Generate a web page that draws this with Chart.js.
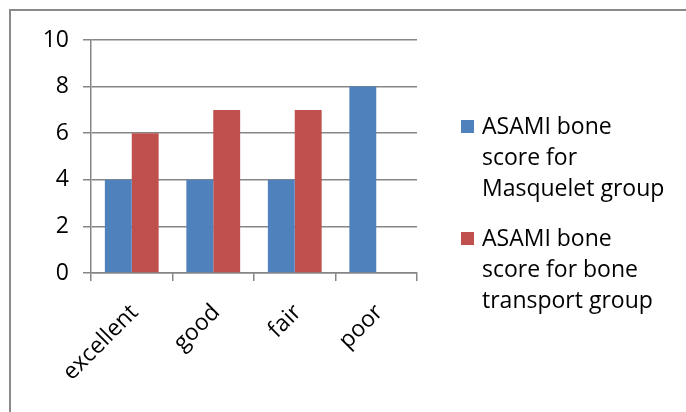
<!DOCTYPE html>
<html>
<head>
<meta charset="utf-8">
<script src="https://cdn.jsdelivr.net/npm/chart.js@4/dist/chart.umd.min.js"></script>
<style>
  html, body { margin: 0; padding: 0; background: #fff; }
  #wrap { position: relative; width: 686px; height: 412px; overflow: hidden; }
  #frame { position: absolute; left: 9px; top: 9px; width: 900px; height: 700px; border: 2px solid #8a8a8a; box-sizing: border-box; }
  #c { position: absolute; left: 0; top: 0; }
</style>
</head>
<body>
<div id="wrap">
  <div id="frame"></div>
  <canvas id="c" width="686" height="412"></canvas>
</div>
<script>
const categories = ["excellent", "good", "fair", "poor"];
const masqueletScores = [4, 4, 4, 8];
const transportScores = [6, 7, 7, 0];
const yTicks = [0, 2, 4, 6, 8, 10];
const legendLines = [
  ["ASAMI bone", "score for", "Masquelet group"],
  ["ASAMI bone", "score for bone", "transport group"]
];

const FONT = "'Open Sans', 'Liberation Sans', sans-serif";
const GRID = "#868686";
const BLUE = "#4F81BD";
const RED = "#C0504D";

const legendPlugin = {
  id: 'customLegend',
  afterDraw(chart) {
    const ctx = chart.ctx;
    ctx.save();
    ctx.font = "23px " + FONT;
    ctx.textBaseline = 'middle';
    ctx.textAlign = 'left';
    const starts = [127, 239];
    chart.data.datasets.forEach((ds, i) => {
      const y0 = starts[i];
      ctx.fillStyle = ds.backgroundColor;
      ctx.fillRect(461, y0 - 7, 13, 13);
      ctx.fillStyle = '#000';
      legendLines[i].forEach((line, j) => {
        ctx.fillText(line, 482, y0 + j * 31);
      });
    });
    ctx.restore();
  }
};

new Chart(document.getElementById('c'), {
  type: 'bar',
  data: {
    labels: categories,
    datasets: [
      { label: legendLines[0].join(' '), data: masqueletScores, backgroundColor: BLUE, categoryPercentage: 0.66, barPercentage: 1.0 },
      { label: legendLines[1].join(' '), data: transportScores, backgroundColor: RED, categoryPercentage: 0.66, barPercentage: 1.0 }
    ]
  },
  options: {
    responsive: false,
    animation: false,
    devicePixelRatio: 1,
    layout: { padding: { left: 0, top: 40, right: 269, bottom: 0 } },
    plugins: {
      legend: { display: false },
      tooltip: { enabled: false }
    },
    scales: {
      x: {
        afterFit(scale) { scale.height = 139; },
        grid: { display: true, drawOnChartArea: false, drawTicks: true, tickLength: 8, color: GRID, lineWidth: 1.5 },
        border: { display: true, color: GRID, width: 1.5 },
        ticks: { color: '#000', font: { family: FONT, size: 23 }, maxRotation: 45, minRotation: 45, padding: 18, labelOffset: 3 }
      },
      y: {
        min: 0, max: 10,
        afterFit(scale) { scale.width = 91; },
        afterBuildTicks(scale) { scale.ticks = yTicks.map(v => ({ value: v })); },
        grid: { color: GRID, lineWidth: 1.5, tickLength: 8 },
        border: { display: true, color: GRID, width: 1.5 },
        ticks: { color: '#000', font: { family: FONT, size: 23 }, padding: 14 }
      }
    }
  },
  plugins: [legendPlugin]
});
</script>
</body>
</html>
